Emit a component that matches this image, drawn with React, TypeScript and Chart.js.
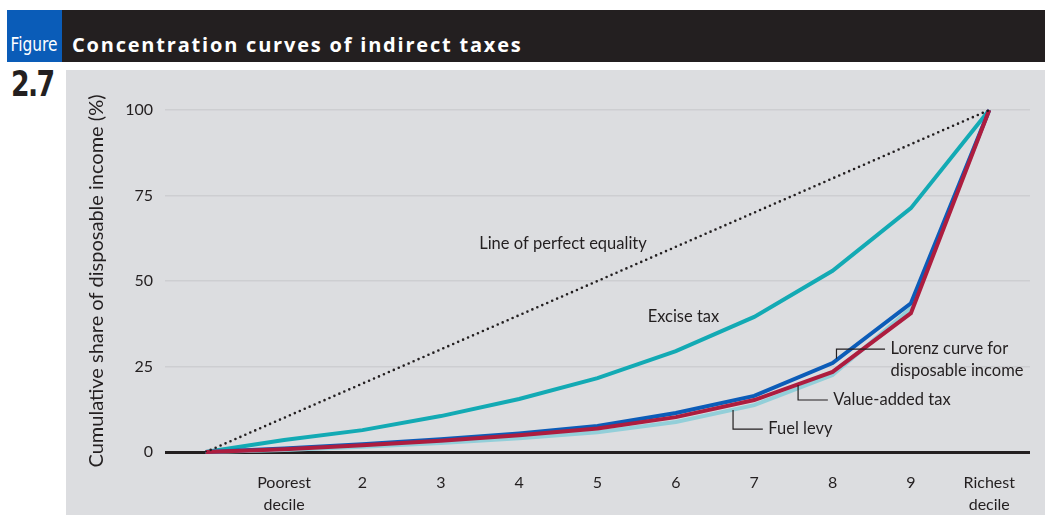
import React, { useEffect, useRef } from "react";
import { Chart, registerables } from "chart.js";

Chart.register(...registerables);

const deciles = [0, 1, 2, 3, 4, 5, 6, 7, 8, 9, 10];
const tickLabels: (string | string[])[] = ["", ["Poorest", "decile"], "2", "3", "4", "5", "6", "7", "8", "9", ["Richest", "decile"]];
const equality = [0, 10, 20, 30, 40, 50, 60, 70, 80, 90, 100];
const exciseTax = [0, 3.5, 6.4, 10.5, 15.5, 21.6, 29.5, 39.5, 53, 71.3, 100];
const lorenz = [0, 1.0, 2.3, 3.7, 5.4, 7.6, 11.4, 16.4, 26.0, 43.5, 100];
const vat = [0, 0.8, 2.0, 3.3, 4.9, 6.9, 10.2, 15.2, 23.4, 40.6, 100];
const fuelLevy = [0, 0.6, 1.5, 2.6, 4.0, 5.8, 8.8, 13.7, 22.5, 42.0, 100];

const TEXT = "#231f20";
const FONT = "Lato, 'Open Sans', sans-serif";

const toPts = (arr: number[]) => arr.map((y, i) => ({ x: deciles[i], y }));

const annotationPlugin = {
  id: "annots",
  afterDatasetsDraw(chart: any) {
    const { ctx, scales } = chart;
    const X = (v: number) => scales.x.getPixelForValue(v);
    const Y = (v: number) => scales.y.getPixelForValue(v);
    ctx.save();
    ctx.strokeStyle = TEXT;
    ctx.lineWidth = 1.2;
    const leaders: [number, number][][] = [
      [[8.05, 27.3], [8.05, 30.1], [8.67, 30.1]],
      [[7.56, 19.6], [7.56, 15.2], [7.94, 15.2]],
      [[6.73, 12.3], [6.73, 6.7], [7.11, 6.7]],
    ];
    leaders.forEach((pts) => {
      ctx.beginPath();
      pts.forEach(([x, y], i) => (i ? ctx.lineTo(X(x), Y(y)) : ctx.moveTo(X(x), Y(y))));
      ctx.stroke();
    });
    ctx.fillStyle = TEXT;
    ctx.font = `16.5px ${FONT}`;
    ctx.textBaseline = "middle";
    ctx.textAlign = "left";
    const texts: [string, number, number][] = [
      ["Line of perfect equality", 3.49, 60.8],
      ["Excise tax", 5.64, 39.5],
      ["Lorenz curve for", 8.74, 30.1],
      ["disposable income", 8.74, 23.7],
      ["Value-added tax", 8.01, 15.2],
      ["Fuel levy", 7.18, 6.7],
    ];
    texts.forEach(([t, x, y]) => ctx.fillText(t, X(x), Y(y)));
    ctx.restore();
  },
};

export default function App() {
  const ref = useRef<HTMLCanvasElement>(null);
  useEffect(() => {
    if (!ref.current) return;
    const chart = new Chart(ref.current, {
      type: "line",
      data: {
        datasets: [
          { label: "Line of perfect equality", data: toPts(equality), borderColor: TEXT, borderWidth: 2.6, borderDash: [0, 5.4], borderCapStyle: "round", pointRadius: 0, order: 0 },
          { label: "Value-added tax", data: toPts(vat), borderColor: "#ad1d3f", borderWidth: 4, pointRadius: 0, order: 1, clip: false },
          { label: "Lorenz curve for disposable income", data: toPts(lorenz), borderColor: "#0c5cb8", borderWidth: 4, pointRadius: 0, order: 2, clip: false },
          { label: "Fuel levy", data: toPts(fuelLevy), borderColor: "#93cfd9", borderWidth: 4, pointRadius: 0, order: 3, clip: false },
          { label: "Excise tax", data: toPts(exciseTax), borderColor: "#13aab4", borderWidth: 4, pointRadius: 0, order: 4, clip: false },
        ] as any,
      },
      options: {
        animation: false,
        responsive: false,
        layout: { padding: { left: 0, right: 15, top: 40, bottom: 0 } },
        plugins: { legend: { display: false }, tooltip: { enabled: false } },
        scales: {
          x: {
            type: "linear",
            min: -0.52,
            max: 10.52,
            afterBuildTicks: (s: any) => { s.ticks = deciles.slice(1).map((v) => ({ value: v })); },
            afterFit: (s: any) => { s.height = 63; },
            grid: { display: false, drawTicks: false },
            border: { display: false },
            ticks: {
              autoSkip: false,
              maxRotation: 0,
              padding: 20,
              color: TEXT,
              font: { family: FONT, size: 16, lineHeight: 1.35 },
              callback: (v: any) => tickLabels[Math.round(Number(v))] as any,
            },
          },
          y: {
            min: 0,
            max: 100,
            afterFit: (s: any) => { s.width = 99; },
            grid: {
              drawTicks: false,
              color: (c: any) => (c.tick && c.tick.value === 0 ? TEXT : "#cdced1"),
              lineWidth: (c: any) => (c.tick && c.tick.value === 0 ? 3 : 1.5),
            },
            border: { display: false },
            ticks: { stepSize: 25, padding: 12, color: TEXT, font: { family: FONT, size: 16 } },
            title: {
              display: true,
              text: "Cumulative share of disposable income (%)",
              color: TEXT,
              font: { family: FONT, size: 20 },
              padding: { top: 19, bottom: 0 },
            },
          },
        },
      } as any,
      plugins: [annotationPlugin],
    });
    return () => chart.destroy();
  }, []);

  return (
    <div style={{ position: "absolute", left: 0, top: 0, width: 1045, height: 515, background: "#fff", overflow: "hidden" }}>
      <div style={{ position: "absolute", left: 7, top: 10, width: 55, height: 52, background: "#0a5cb8" }} />
      <div style={{ position: "absolute", left: 62, top: 10, width: 983, height: 52, background: TEXT }} />
      <div style={{ position: "absolute", left: 7, top: 32, width: 55, textAlign: "center", color: "#fff", fontFamily: "'DejaVu Sans Condensed', 'Liberation Sans Narrow', sans-serif", fontStretch: "condensed", fontSize: 19, lineHeight: "24px" }}>
        <span style={{ display: "inline-block", transform: "scaleX(0.9)" }}>Figure</span>
      </div>
      <div style={{ position: "absolute", left: 72, top: 32, color: "#fff", fontFamily: "'Open Sans', sans-serif", fontWeight: 700, fontSize: 20, letterSpacing: 1.8, lineHeight: "26px", whiteSpace: "nowrap" }}>Concentration curves of indirect taxes</div>
      <div style={{ position: "absolute", left: 11, top: 64, color: TEXT, fontFamily: "'DejaVu Sans Condensed', 'Liberation Sans Narrow', sans-serif", fontStretch: "condensed", fontWeight: 700, fontSize: 35, letterSpacing: -2, lineHeight: "40px", transform: "scaleX(0.85)", transformOrigin: "left top" }}>2.7</div>
      <div style={{ position: "absolute", left: 66, top: 70, width: 979, height: 445, background: "#dcdde0" }} />
      <canvas ref={ref} width={979} height={445} style={{ position: "absolute", left: 66, top: 70, width: 979, height: 445 }} />
    </div>
  );
}
